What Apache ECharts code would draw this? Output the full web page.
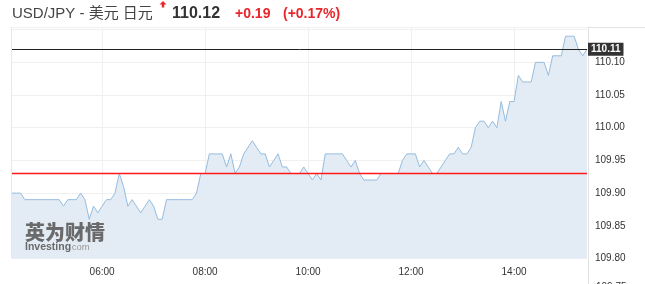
<!DOCTYPE html>
<html><head><meta charset="utf-8">
<script src="https://cdn.jsdelivr.net/npm/echarts@6/dist/echarts.min.js"></script>
<style>html,body{margin:0;padding:0;background:#fff}#c{width:645px;height:284px}</style>
</head><body><div id="c"></div>
<script>
// ---- data ----
var startTime = '04:15';      // first 5-minute bar
var stepMinutes = 5;
var prices = [
 109.90,109.90,109.90,109.89,109.89,109.89,109.89,109.89,109.89,109.89,
 109.89,109.89,109.88,109.89,109.89,109.89,109.90,109.89,109.86,109.88,
 109.87,109.88,109.89,109.89,109.90,109.93,109.91,109.88,109.89,109.88,
 109.87,109.88,109.89,109.88,109.86,109.86,109.89,109.89,109.89,109.89,
 109.89,109.89,109.89,109.90,109.93,109.93,109.96,109.96,109.96,109.96,
 109.94,109.96,109.93,109.94,109.96,109.97,109.98,109.97,109.96,109.96,
 109.94,109.95,109.96,109.94,109.94,109.93,109.93,109.93,109.94,109.93,
 109.92,109.93,109.92,109.96,109.96,109.96,109.96,109.96,109.95,109.94,
 109.95,109.93,109.92,109.92,109.92,109.92,109.93,109.93,109.93,109.93,
 109.93,109.95,109.96,109.96,109.96,109.94,109.95,109.94,109.93,109.93,
 109.94,109.95,109.96,109.96,109.97,109.96,109.96,109.97,110.00,110.01,
 110.01,110.00,110.01,110.00,110.04,110.01,110.04,110.04,110.08,110.07,
 110.07,110.07,110.10,110.10,110.10,110.08,110.11,110.11,110.11,110.14,
 110.14,110.14,110.12,110.11,110.12
];
var prevClose = 109.93;
var lastLine = 110.118;
var lastLabel = '110.11';
var titleText = 'USD/JPY - 美元 日元';
var priceText = '110.12';
var changeText = '+0.19';
var changePctText = '(+0.17%)';
var yTickLabels = ['109.80','109.85','109.90','109.95','110.00','110.05','110.10'];
var cutLabel = '109.75';

// build categories from start time
var times = [];
(function(){
  var p = startTime.split(':'); var m = (+p[0])*60 + (+p[1]);
  for (var i=0;i<prices.length;i++){
    var t = m + i*stepMinutes;
    var hh = Math.floor(t/60), mm = t%60;
    times.push((hh<10?'0':'')+hh+':'+(mm<10?'0':'')+mm);
  }
})();
function isMajor(i, v){ var h=parseInt(v.slice(0,2),10), mm=v.slice(3); return mm==='00' && h%2===0; }

var FONT = '"Liberation Sans", Arial, "Noto Sans CJK SC", sans-serif';
var chart = echarts.init(document.getElementById('c'), null, {renderer:'canvas'});
chart.setOption({
  animation:false,
  backgroundColor:'#fff',
  textStyle:{fontFamily:FONT},
  grid:{left:12,right:58,top:27,bottom:25.5,containLabel:false},
  xAxis:{
    type:'category', data:times, boundaryGap:false,
    axisLine:{show:false}, axisTick:{show:false},
    axisLabel:{interval:isMajor, color:'#333', fontSize:10, margin:9, fontFamily:FONT},
    splitLine:{show:true, interval:isMajor, lineStyle:{color:'#f0f0f0',width:1}}
  },
  yAxis:{
    type:'value', position:'right', min:109.80, max:110.15406, interval:0.05,
    axisLine:{show:false}, axisTick:{show:false},
    axisLabel:{color:'#333', fontSize:10, margin:8, fontFamily:FONT, showMaxLabel:false,
      formatter:function(v){ var s=v.toFixed(2); return yTickLabels.indexOf(s)>=0 ? s : ''; }},
    splitLine:{show:true, lineStyle:{color:'#f0f0f0',width:1}}
  },
  series:[{
    type:'line', data:prices, symbol:'none', smooth:false, z:2,
    lineStyle:{color:'#95bcdf', width:1},
    areaStyle:{color:'#e3ecf4', opacity:1, origin:'start'},
    markLine:{
      silent:true, symbol:['none','none'], animation:false,
      lineStyle:{color:'#222',width:1,type:'solid'},
      label:{show:true, position:'end', distance:1, formatter:lastLabel,
           backgroundColor:'#333', color:'#fff', fontWeight:'bold', fontSize:10,
           padding:[2,3,1,3], fontFamily:FONT},
      data:[{yAxis:lastLine}]
    }
  },{
    type:'line', data:[], symbol:'none', z:3,
    markLine:{
      silent:true, symbol:['none','none'], animation:false,
      lineStyle:{color:'#ff1a1a',width:1.4,type:'solid',opacity:1},
      emphasis:{disabled:true},
      label:{show:false},
      data:[{yAxis:prevClose}]
    }
  }],
  graphic:[
    {type:'line', silent:true, shape:{x1:11,y1:27.5,x2:645,y2:27.5}, style:{stroke:'#e2e2e2',lineWidth:1}},
    {type:'line', silent:true, shape:{x1:11.5,y1:27,x2:11.5,y2:258}, style:{stroke:'#e8e8e8',lineWidth:1}},
    {type:'line', silent:true, shape:{x1:588.5,y1:27,x2:588.5,y2:284}, style:{stroke:'#e2e2e2',lineWidth:1}},
    {type:'text', silent:true, style:{x:12, y:14, text:titleText, fill:'#444', font:'15px '+FONT, textVerticalAlign:'middle'}},
    {type:'polygon', silent:true, shape:{points:[[163,1],[166.5,4.5],[164.2,4.5],[164.2,7.5],[161.8,7.5],[161.8,4.5],[159.5,4.5]]}, style:{fill:'#e8262b'}},
    {type:'text', silent:true, style:{x:172, y:14, text:priceText, fill:'#333', font:'bold 16px '+FONT, textVerticalAlign:'middle'}},
    {type:'text', silent:true, style:{x:235, y:14, text:changeText, fill:'#e8262b', font:'bold 14px '+FONT, textVerticalAlign:'middle'}},
    {type:'text', silent:true, style:{x:283, y:14, text:changePctText, fill:'#e8262b', font:'bold 14px '+FONT, textVerticalAlign:'middle'}},
    {type:'text', silent:true, style:{x:596, y:287, text:cutLabel, fill:'#333', font:'10px '+FONT, textVerticalAlign:'middle'}},
    {type:'text', silent:true, z:10, style:{x:25, y:232, text:'英为财情', fill:'#6a6a6a', font:'900 20px "Noto Sans CJK SC", sans-serif', textVerticalAlign:'middle'}},
    {type:'text', silent:true, z:10, style:{x:25, y:247, text:'Investing', fill:'#6a6a6a', font:'bold 10.5px '+FONT, textVerticalAlign:'middle'}},
    {type:'text', silent:true, z:10, style:{x:69, y:247.5, text:'.com', fill:'#999', font:'9.5px '+FONT, textVerticalAlign:'middle'}}
  ]
});
</script></body></html>
